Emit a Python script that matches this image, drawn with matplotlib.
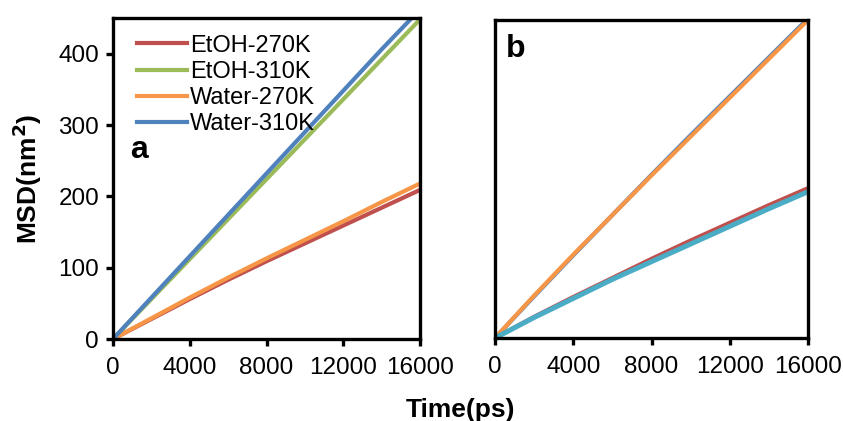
import numpy as np
import matplotlib
matplotlib.use("Agg")
import matplotlib.pyplot as plt

plt.rcParams['font.family'] = ['Liberation Sans', 'DejaVu Sans']

time_ps = [0, 2000, 4000, 6000, 8000, 10000, 12000, 14000, 16000]

# panel a
a_etoh_270 = [0, 28, 56, 83, 109, 134, 159, 184, 209]
a_etoh_310 = [0, 56, 112, 168, 224, 280, 336, 392, 448]
a_water_270 = [0, 29, 58, 86, 113, 139, 165, 192, 218]
a_water_310 = [0, 58, 116, 174, 232, 290, 348, 406, 462]

# panel b
b_orange = [0, 60, 118, 174, 230, 285, 340, 395, 450]
b_blue = [0, 59, 117, 174, 231, 287, 342, 397, 452]
b_red = [0, 30, 58, 85, 112, 138, 163, 188, 212]
b_cyan = [0, 29, 56, 83, 108, 133, 158, 183, 207]

labels = ['EtOH-270K', 'EtOH-310K', 'Water-270K', 'Water-310K']
red, green, orange, blue, cyan = '#c0504d', '#9bbb59', '#f79646', '#4f81bd', '#4bacc6'

fig = plt.figure(figsize=(8.43, 4.21), dpi=100)
ax1 = fig.add_axes([113/843, 1-339/421, 307/843, 321/421])
ax2 = fig.add_axes([495/843, 1-338/421, 313/843, 318/421])

lw = 3.0
ax1.plot(time_ps, a_etoh_270, color=red, lw=lw, label=labels[0])
ax1.plot(time_ps, a_etoh_310, color=green, lw=lw, label=labels[1])
ax1.plot(time_ps, a_water_270, color=orange, lw=lw, label=labels[2])
ax1.plot(time_ps, a_water_310, color=blue, lw=lw, label=labels[3])

ax2.plot(time_ps, b_blue, color=blue, lw=lw)
ax2.plot(time_ps, b_orange, color=orange, lw=lw)
ax2.plot(time_ps, b_red, color=red, lw=lw)
ax2.plot(time_ps, b_cyan, color=cyan, lw=lw + 0.6)

for ax in (ax1, ax2):
    ax.set_xlim(0, 16000)
    ax.set_ylim(0, 450)
    ax.set_xticks([0, 4000, 8000, 12000, 16000])
    for s in ax.spines.values():
        s.set_linewidth(2.4)
    ax.tick_params(direction='out', length=5, width=2.4, labelsize=17.5, pad=5)
    ax.tick_params(axis='x', pad=8)

ax1.set_yticks([0, 100, 200, 300, 400])
ax2.set_yticks([])

ax1.set_ylabel('MSD(nm$^\\mathbf{2}$)', fontsize=19, fontweight='bold', labelpad=10)
fig.text(0.546, 0.01, 'Time(ps)', fontsize=19, fontweight='bold', ha='center')

ax1.text(0.055, 0.565, 'a', transform=ax1.transAxes, fontsize=23, fontweight='bold')
ax2.text(0.035, 0.885, 'b', transform=ax2.transAxes, fontsize=23, fontweight='bold')

ax1.legend(loc='upper left', bbox_to_anchor=(0.025, 1.0), frameon=False, fontsize=17,
           handlelength=2.1, handletextpad=0.15, labelspacing=0.18, borderaxespad=0.4,
           borderpad=0.3)

fig.savefig('out.png', dpi=100)
